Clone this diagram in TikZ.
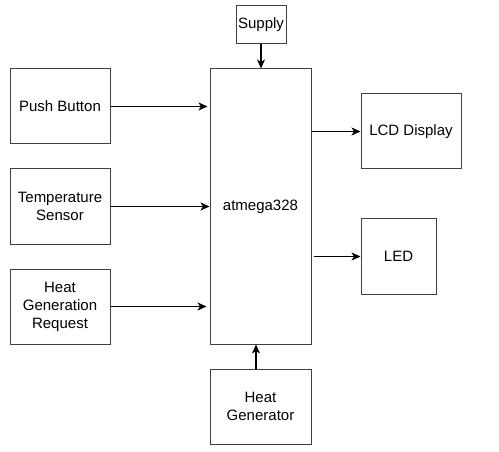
\documentclass[tikz,border=0pt]{standalone}
\usepackage{fontspec}
\setmainfont{Liberation Sans}
\usetikzlibrary{arrows.meta}
\usetikzlibrary{positioning}

\begin{document}
\begin{tikzpicture}[x=1pt,y=-1pt,
  block/.style={draw=black!75,line width=1pt,inner sep=0pt,align=center,
    font=\fontsize{15}{18}\selectfont},
  link/.style={draw=black,line width=1.3pt,-{Stealth[length=9pt,width=8pt,inset=2.5pt]}}]
  \useasboundingbox (0,0) rectangle (499,452);

  % blocks
  \node[block,minimum width=101pt,minimum height=275pt] (mcu) at (260.5,206.5) {atmega328};
  \node[block,minimum width=50pt,minimum height=38pt] (supply) at (261,25) {Supply};
  \node[block,minimum width=100pt,minimum height=75pt] (pb) at (60,106.5) {Push Button};
  \node[block,minimum width=100pt,minimum height=75pt] (temp) at (60,206.5) {Temperature\\Sensor};
  \node[block,minimum width=100pt,minimum height=75pt] (req) at (60,306.5) {Heat\\Generation\\Request};
  \node[block,minimum width=100pt,minimum height=75pt] (lcd) at (411,131.5) {LCD Display};
  \node[block,minimum width=75pt,minimum height=75pt] (led) at (398.5,256.5) {LED};
  \node[block,minimum width=101pt,minimum height=75pt] (heater) at (260.5,406.5) {Heat\\Generator};

  % arrows
  \draw[link] (supply.south) -- (supply.south |- mcu.north);
  \draw[link] (pb.east) -- ([xshift=-2pt]pb.east -| mcu.west);
  \draw[link] (temp.east) -- (temp.east -| mcu.west);
  \draw[link] (req.east) -- ([xshift=-3pt]req.east -| mcu.west);
  \draw[link] (lcd.west -| mcu.east) -- (lcd.west);
  \draw[link] ([xshift=2pt]led.west -| mcu.east) -- (led.west);
  \draw[link] ([xshift=-4.5pt]heater.north) -- ([xshift=-4.5pt]heater.north |- mcu.south);

\end{tikzpicture}
\end{document}
